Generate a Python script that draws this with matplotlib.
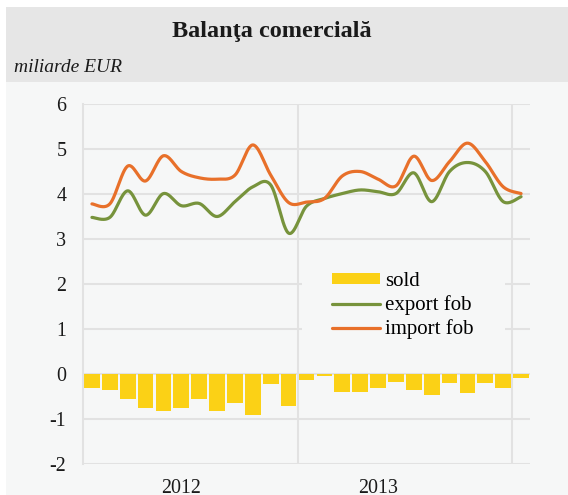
# balanta comerciala 2012-2013 (miliarde EUR)

import numpy as np
import matplotlib
matplotlib.use('Agg')
import matplotlib.pyplot as plt
from matplotlib.patches import Rectangle
from matplotlib.lines import Line2D

plt.rcParams['font.family'] = ['Liberation Serif', 'DejaVu Serif']
plt.rcParams['axes.unicode_minus'] = False

# data: Jan 2012 .. Jan 2014
months = list(range(25))
sold = [-0.30, -0.35, -0.56, -0.75, -0.83, -0.75, -0.56, -0.83, -0.65, -0.90, -0.23, -0.72,
        -0.14, -0.05, -0.39, -0.41, -0.31, -0.18, -0.36, -0.47, -0.21, -0.43, -0.19, -0.32,
        -0.09]
export_fob = [3.48, 3.48, 4.07, 3.53, 4.01, 3.74, 3.79, 3.50, 3.83, 4.16, 4.20, 3.13,
              3.73, 3.90, 4.01, 4.09, 4.05, 4.01, 4.47, 3.83, 4.50, 4.70, 4.50, 3.83,
              3.94]
import_fob = [3.78, 3.78, 4.62, 4.29, 4.85, 4.50, 4.36, 4.33, 4.42, 5.09, 4.42, 3.81,
              3.82, 3.90, 4.40, 4.50, 4.33, 4.18, 4.84, 4.30, 4.72, 5.13, 4.72, 4.16,
              4.01]
year_labels = ['2012', '2013']
year_pos = [5, 16]

BG = '#f6f7f7'
GRID = '#e2e2e2'


# smooth line like excel (bezier through the points)
def smooth(x, y, n=30):
    x = np.asarray(x, float)
    y = np.asarray(y, float)
    px = np.concatenate([[x[0]], x, [x[-1]]])
    py = np.concatenate([[y[0]], y, [y[-1]]])
    t = np.linspace(0, 1, n)[:, None]
    xs, ys = [], []
    for i in range(1, len(px) - 2):
        p0 = np.array([px[i], py[i]])
        p3 = np.array([px[i + 1], py[i + 1]])
        c1 = p0 + (np.array([px[i + 1], py[i + 1]]) - np.array([px[i - 1], py[i - 1]])) / 6
        c2 = p3 - (np.array([px[i + 2], py[i + 2]]) - p0) / 6
        b = ((1 - t) ** 3) * p0 + 3 * ((1 - t) ** 2) * t * c1 + 3 * (1 - t) * t ** 2 * c2 + t ** 3 * p3
        xs.append(b[:, 0])
        ys.append(b[:, 1])
    return np.concatenate(xs), np.concatenate(ys)


fig = plt.figure(figsize=(5.68, 4.95), dpi=100, facecolor=BG)

# white margins + grey header
fig.patches.append(Rectangle((0, 0), 6 / 568, 1, transform=fig.transFigure,
                             facecolor='white', edgecolor='none', zorder=0))
fig.patches.append(Rectangle((0, 1 - 7 / 495), 1, 7 / 495, transform=fig.transFigure,
                             facecolor='white', edgecolor='none', zorder=0))
fig.patches.append(Rectangle((6 / 568, 1 - 82 / 495), 1, 75 / 495, transform=fig.transFigure,
                             facecolor='#e6e6e6', edgecolor='none', zorder=0))
fig.text(272 / 568, 1 - 32 / 495, 'Balanţa comercială', ha='center', va='center',
         fontsize=17.5, fontweight='bold', color='#1a1a1a')
fig.text(14 / 568, 1 - 72 / 495, 'miliarde EUR', ha='left', va='baseline',
         fontsize=14, style='italic', color='#1a1a1a')

ax = fig.add_axes([83 / 568, 31 / 495, 447 / 568, 360 / 495])
ax.set_facecolor(BG)
ax.set_xlim(-0.5, 24.5)
ax.set_ylim(-2, 6)

for v in range(-2, 7):
    ax.axhline(v, color=GRID, lw=1.5, zorder=0)
for v in [11.5, 23.5]:
    ax.axvline(v, color=GRID, lw=1.5, zorder=0)

for s in ['top', 'right', 'bottom']:
    ax.spines[s].set_visible(False)
ax.spines['left'].set_color(GRID)
ax.spines['left'].set_linewidth(1.5)

ax.bar(months, sold, width=0.88, color='#fbd116', zorder=2)

ex, ey = smooth(months, export_fob)
ax.plot(ex, ey, color='#77933c', lw=2.3, zorder=3, solid_capstyle='round')
ix, iy = smooth(months, import_fob)
ax.plot(ix, iy, color='#e8702a', lw=2.3, zorder=3, solid_capstyle='round')

ax.set_yticks(range(-2, 7))
ax.set_xticks(year_pos)
ax.set_xticklabels(year_labels)
ax.tick_params(axis='both', length=0, labelsize=14.4, colors='#1a1a1a')
ax.tick_params(axis='y', pad=12)
ax.tick_params(axis='x', pad=11)

# legend box hides the grid behind it
ax.add_patch(Rectangle((302 / 568, 1 - 345 / 495), 203 / 568, 83 / 495,
                       transform=fig.transFigure, facecolor=BG,
                       edgecolor='none', zorder=1.5, clip_on=False))

handles = [Rectangle((0, 0), 1, 1, facecolor='#fbd116', edgecolor='none'),
           Line2D([], [], color='#77933c', lw=2.3, solid_capstyle='round'),
           Line2D([], [], color='#e8702a', lw=2.3, solid_capstyle='round')]
leg = ax.legend(handles, ['sold', 'export fob', 'import fob'],
                loc='upper left', bbox_to_anchor=(332 / 568, 1 - 272 / 495),
                bbox_transform=fig.transFigure, fontsize=15, frameon=False,
                handlelength=2.3, handleheight=0.45, handletextpad=0.25,
                labelspacing=0.2, borderaxespad=0, borderpad=0)
leg.set_zorder(5)

fig.savefig('out.png', dpi=100, facecolor=fig.get_facecolor())
